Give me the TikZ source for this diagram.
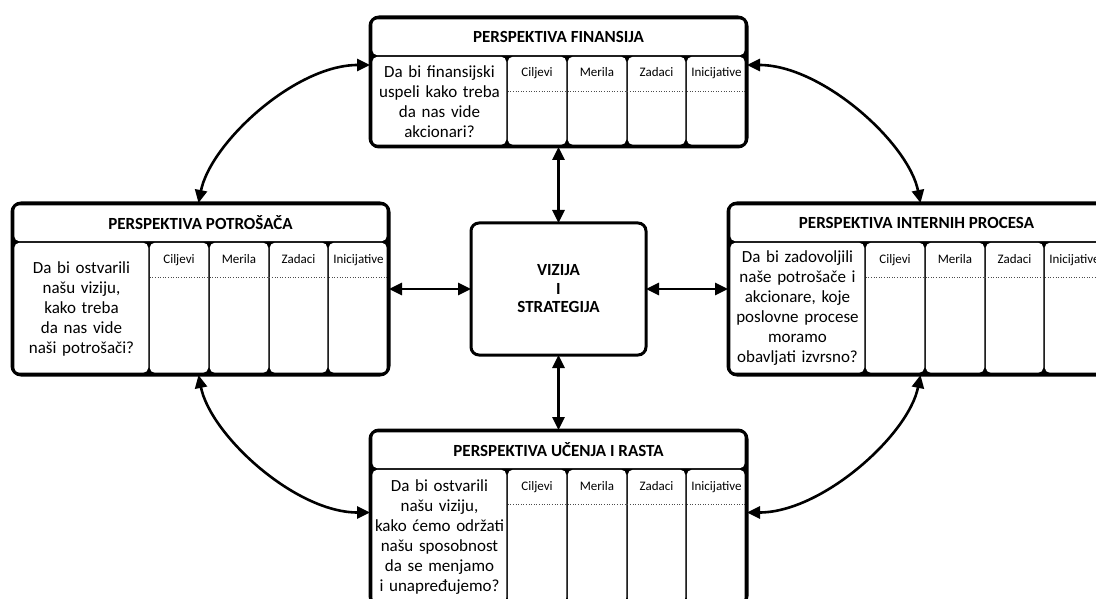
\documentclass[tikz,border=0pt]{standalone}
\usepackage{fontspec}
\setmainfont{Carlito}
\usetikzlibrary{arrows.meta}
\tikzset{
  pframe/.style={rectangle, draw=black, fill=black, line width=3pt, rounded corners=9pt, inner sep=0pt, outer sep=0pt},
  pcell/.style={fill=white, rounded corners=5pt},
  ptitle/.style={font=\fontsize{17}{19}\selectfont\bfseries, inner sep=0pt},
  qtext/.style={font=\fontsize{17}{20}\selectfont, align=center, text width=132pt, inner sep=0pt},
  clabel/.style={font=\fontsize{13}{15}\selectfont, inner sep=0pt, anchor=base},
  dotline/.style={dotted, line width=0.6pt, black!70},
  vizbox/.style={rectangle, draw=black, fill=white, line width=3pt, rounded corners=8pt, outer sep=0pt, align=center, font=\fontsize{17}{18.5}\selectfont\bfseries},
  conn/.style={line width=2.6pt, {Triangle[length=13pt,width=12pt]}-{Triangle[length=13pt,width=12pt]}},
}
\newcommand\pbox[6]{%
  \node[pframe, minimum width=377pt, minimum height=#4pt, anchor=north west] (#1) at (#2,#3) {};
  \begin{scope}[shift={(#2,#3)}]
    \fill[pcell] (2.3,2.3) rectangle (374.7,38.2);
    \fill[pcell] (2.3,39.8) rectangle (136.25,#4-2.3);
    \fill[pcell] (137.75,39.8) rectangle (196.25,#4-2.3);
    \fill[pcell] (197.75,39.8) rectangle (256.25,#4-2.3);
    \fill[pcell] (257.75,39.8) rectangle (315.25,#4-2.3);
    \fill[pcell] (316.75,39.8) rectangle (374.7,#4-2.3);
    \draw[dotline] (137.75,74) -- (374.7,74);
    \node[ptitle] (#1-t) at (188.5,20) {#5};
    \node[qtext] (#1-q) at (69.5,{(39+#4)/2}) {#6};
    \node[clabel] (#1-c1) at (167,60) {Ciljevi};
    \node[clabel] (#1-c2) at (227,60) {Merila};
    \node[clabel] (#1-c3) at (286.5,60) {Zadaci};
    \node[clabel] (#1-c4) at (346.5,60) {Inicijative};
  \end{scope}
}
\begin{document}
\begin{tikzpicture}[x=1pt,y=-1pt]
  \clip (0,0) rectangle (1096,599);
  \useasboundingbox (0,0) rectangle (1096,599);
  \fill[white] (0,0) rectangle (1096,599);

  \pbox{fin}{370}{17}{130}{PERSPEKTIVA FINANSIJA}{Da bi finansijski\\uspeli kako treba\\da nas vide\\akcionari?}
  \pbox{pot}{12}{203}{172}{PERSPEKTIVA POTROŠAČA}{Da bi ostvarili\\našu viziju,\\kako treba\\da nas vide\\naši potrošači?}
  \pbox{int}{728}{203}{172}{PERSPEKTIVA INTERNIH PROCESA}{Da bi zadovoljili\\naše potrošače i\\akcionare, koje\\poslovne procese\\moramo\\obavljati izvrsno?}
  \pbox{ucr}{370}{430}{175}{PERSPEKTIVA UČENJA I RASTA}{Da bi ostvarili\\našu viziju,\\kako ćemo održati\\našu sposobnost\\da se menjamo\\i unapređujemo?}

  \node[vizbox, minimum width=175pt, minimum height=132pt] (viz) at (558.5,289) {VIZIJA\\I\\STRATEGIJA};

  \draw[conn] (viz.north) -- (fin.south);
  \draw[conn] (viz.south) -- (ucr.north);
  \draw[conn] (viz.west) -- (pot.east);
  \draw[conn] (viz.east) -- (int.west);

  \draw[conn] ([xshift=-2pt]pot.north) .. controls +(12,-60) and +(-75,0) .. ([yshift=17pt]fin.west);
  \draw[conn] ([yshift=17pt]fin.east) .. controls +(75,0) and +(-12,-60) .. ([xshift=4pt]int.north);
  \draw[conn] ([xshift=-2pt]pot.south) .. controls +(12,60) and +(-75,0) .. ([yshift=5pt]ucr.west);
  \draw[conn] ([yshift=5pt]ucr.east) .. controls +(75,0) and +(-12,60) .. ([xshift=4pt]int.south);
\end{tikzpicture}
\end{document}
